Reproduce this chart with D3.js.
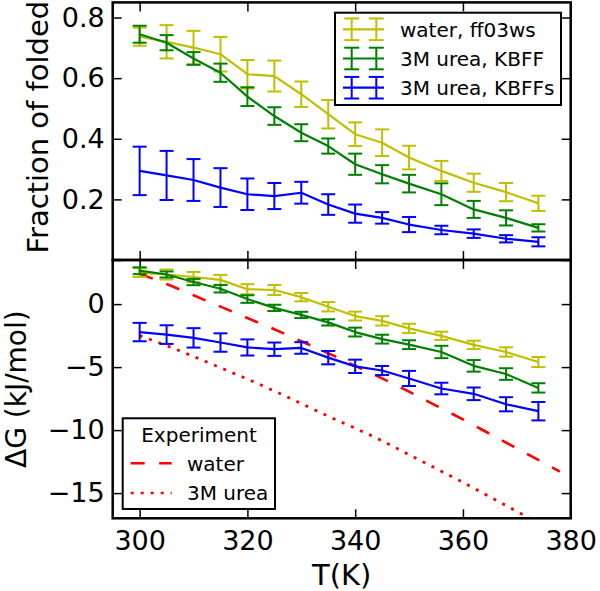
<!DOCTYPE html>
<html><head><meta charset="utf-8">
<script src="https://cdn.jsdelivr.net/npm/d3@7"></script>
<style>
body{margin:0;background:#fff}
text{font-family:"DejaVu Sans",sans-serif;fill:#000}
</style>
</head><body>
<svg id="chart" width="600" height="591"></svg>
<script>
// ---- data ----
const temps = [300,305,310,315,320,325,330,335,340,345,350,356,362,368,374];

const fracWater     = [0.737,0.720,0.701,0.679,0.613,0.607,0.547,0.481,0.415,0.387,0.338,0.294,0.255,0.224,0.187];
const fracWaterErr  = [0.030,0.055,0.055,0.057,0.047,0.051,0.042,0.047,0.039,0.044,0.039,0.033,0.030,0.030,0.025];
const fracKBFF      = [0.745,0.717,0.665,0.618,0.539,0.475,0.420,0.376,0.316,0.283,0.252,0.217,0.167,0.139,0.106];
const fracKBFFErr   = [0.028,0.025,0.021,0.030,0.031,0.029,0.028,0.025,0.035,0.030,0.029,0.036,0.028,0.025,0.012];
const fracKBFFs     = [0.294,0.279,0.264,0.239,0.217,0.211,0.222,0.183,0.153,0.139,0.117,0.099,0.087,0.070,0.060];
const fracKBFFsErr  = [0.080,0.081,0.069,0.064,0.052,0.043,0.036,0.034,0.030,0.019,0.025,0.014,0.014,0.012,0.015];

const dGWater       = [2.50,2.35,2.15,1.92,1.18,1.12,0.55,-0.21,-0.95,-1.33,-1.93,-2.52,-3.24,-3.80,-4.60];
const dGWaterErr    = [0.35,0.40,0.40,0.40,0.40,0.40,0.33,0.37,0.35,0.37,0.37,0.33,0.33,0.37,0.40];
const dGKBFF        = [2.65,2.35,1.75,1.22,0.40,-0.30,-0.86,-1.45,-2.22,-2.78,-3.22,-3.80,-4.90,-5.55,-6.65];
const dGKBFFErr     = [0.27,0.24,0.25,0.30,0.30,0.25,0.25,0.25,0.35,0.35,0.35,0.49,0.46,0.46,0.37];
const dGKBFFs       = [-2.22,-2.42,-2.68,-3.05,-3.44,-3.58,-3.48,-4.25,-4.94,-5.27,-5.90,-6.70,-7.12,-7.95,-8.50];
const dGKBFFsErr    = [0.73,0.74,0.77,0.73,0.64,0.53,0.46,0.53,0.53,0.36,0.60,0.46,0.50,0.56,0.73];

const expTemps      = [300,305,310,315,320,325,330,335,340,345,350,355,360,365,370,375,378];
const expWater      = [2.4,1.6,0.7,-0.2,-1.1,-2.0,-2.95,-3.9,-4.9,-5.9,-6.95,-8.05,-9.15,-10.3,-11.45,-12.6,-13.3];
const expUreaTemps  = [300,305,310,315,320,325,330,335,340,345,350,355,360,365,370,375];
const expUrea       = [-2.5,-3.3,-4.15,-5.05,-5.95,-6.9,-7.9,-8.9,-9.85,-10.85,-11.95,-13.05,-14.15,-15.3,-16.45,-17.6];

const xTicks     = [300,320,340,360,380];
const fracTicks  = [0,0.2,0.4,0.6,0.8];
const dGTicks    = [-15,-10,-5,0];

const seriesNames = ["water, ff03ws","3M urea, KBFF","3M urea, KBFFs"];
const seriesColors = ["#bfbf00","#008000","#0000ff"];
const expNames = ["water","3M urea"];
const expTitle = "Experiment";

// ---- layout ----
const L = 112.7, R = 570.7;
const topY0 = 2.4, topY1 = 260, botY0 = 260, botY1 = 518.3;
const svg = d3.select("#chart");

const x = d3.scaleLinear().domain([295,380]).range([L,R]);
const yTop = d3.scaleLinear().domain([0,0.85]).range([topY1,topY0]);
const yBot = d3.scaleLinear().domain([-17,3.5]).range([botY1,botY0]);

const fmtFrac = d => d === 0 ? "" : d3.format(".1f")(d);
const fmtInt = d => d3.format("d")(d);

function drawAxes(y, yTicks, yFmt, showX) {
  const y0 = y.range()[0], y1 = y.range()[1];
  const g = svg.append("g");
  const styleAx = a => {
    a.select(".domain").remove();
    a.selectAll(".tick line").attr("stroke","#000").attr("stroke-width",1.5);
    a.selectAll(".tick text").style("font-size","27px").style("font-family","DejaVu Sans");
  };
  g.append("g").attr("transform",`translate(0,${y0})`)
    .call(d3.axisBottom(x).tickValues(xTicks).tickSize(-9).tickPadding(13).tickFormat(showX ? fmtInt : ""))
    .call(styleAx);
  g.append("g").attr("transform",`translate(0,${y1})`)
    .call(d3.axisTop(x).tickValues(xTicks).tickSize(-9).tickFormat(""))
    .call(styleAx);
  g.append("g").attr("transform",`translate(${L},0)`)
    .call(d3.axisLeft(y).tickValues(yTicks).tickSize(-9).tickPadding(8).tickFormat(yFmt))
    .call(styleAx);
  g.append("g").attr("transform",`translate(${R},0)`)
    .call(d3.axisRight(y).tickValues(yTicks).tickSize(-9).tickFormat(""))
    .call(styleAx);
}

function drawSeries(y, vals, errs, color) {
  const g = svg.append("g");
  const line = d3.line().x((d,i)=>x(temps[i])).y(d=>y(d));
  g.append("path").datum(vals).attr("d",line).attr("fill","none")
    .attr("stroke",color).attr("stroke-width",2.2).attr("stroke-linejoin","round");
  const cap = 7;
  vals.forEach((v,i)=>{
    const cx = x(temps[i]), yt = y(v+errs[i]), yb = y(v-errs[i]);
    g.append("line").attr("x1",cx).attr("x2",cx).attr("y1",yt).attr("y2",yb).attr("stroke",color).attr("stroke-width",2);
    g.append("line").attr("x1",cx-cap).attr("x2",cx+cap).attr("y1",yt).attr("y2",yt).attr("stroke",color).attr("stroke-width",2);
    g.append("line").attr("x1",cx-cap).attr("x2",cx+cap).attr("y1",yb).attr("y2",yb).attr("stroke",color).attr("stroke-width",2);
  });
}

const dashWater = "14,14.5", dashUrea = "3,7";

// clip for bottom panel
svg.append("defs").append("clipPath").attr("id","clipBot")
  .append("rect").attr("x",L).attr("y",botY0).attr("width",R-L).attr("height",botY1-botY0);

// top panel
drawAxes(yTop, fracTicks, fmtFrac, false);
drawSeries(yTop, fracWater, fracWaterErr, seriesColors[0]);
drawSeries(yTop, fracKBFF, fracKBFFErr, seriesColors[1]);
drawSeries(yTop, fracKBFFs, fracKBFFsErr, seriesColors[2]);

// bottom panel
drawAxes(yBot, dGTicks, fmtInt, true);
const gClip = svg.append("g").attr("clip-path","url(#clipBot)");
gClip.append("path").datum(expWater)
  .attr("d", d3.line().curve(d3.curveMonotoneX).x((d,i)=>x(expTemps[i])).y(d=>yBot(d)))
  .attr("fill","none").attr("stroke","#ff0000").attr("stroke-width",2.6).attr("stroke-dasharray",dashWater);
gClip.append("path").datum(expUrea)
  .attr("d", d3.line().curve(d3.curveMonotoneX).x((d,i)=>x(expUreaTemps[i])).y(d=>yBot(d)))
  .attr("fill","none").attr("stroke","#ff0000").attr("stroke-width",2.8).attr("stroke-dasharray",dashUrea);
drawSeries(yBot, dGWater, dGWaterErr, seriesColors[0]);
drawSeries(yBot, dGKBFF, dGKBFFErr, seriesColors[1]);
drawSeries(yBot, dGKBFFs, dGKBFFsErr, seriesColors[2]);

// frames
svg.append("rect").attr("x",L).attr("y",topY0).attr("width",R-L).attr("height",topY1-topY0)
  .attr("fill","none").attr("stroke","#000").attr("stroke-width",2.5);
svg.append("rect").attr("x",L).attr("y",botY0).attr("width",R-L).attr("height",botY1-botY0)
  .attr("fill","none").attr("stroke","#000").attr("stroke-width",2.5);

// axis labels
svg.append("text").attr("x",(L+R)/2).attr("y",585).attr("text-anchor","middle")
  .style("font-size","29px").text("T(K)");
svg.append("text").attr("transform",`translate(48,${(topY0+topY1)/2 - 4}) rotate(-90)`).attr("text-anchor","middle")
  .style("font-size","29px").text("Fraction of folded");
svg.append("text").attr("transform",`translate(26,${(botY0+botY1)/2}) rotate(-90)`).attr("text-anchor","middle")
  .style("font-size","28px").text("ΔG (kJ/mol)");

// legend 1
const lg1 = svg.append("g");
lg1.append("rect").attr("x",335).attr("y",12.7).attr("width",226).attr("height",92.3)
  .attr("fill","#fff").attr("stroke","#000").attr("stroke-width",2);
seriesNames.forEach((n,i)=>{
  const cy = 29.3 + i*29.2, c = seriesColors[i];
  lg1.append("line").attr("x1",343).attr("x2",384).attr("y1",cy).attr("y2",cy).attr("stroke",c).attr("stroke-width",2.2);
  [351.7,376.3].forEach(bx=>{
    lg1.append("line").attr("x1",bx).attr("x2",bx).attr("y1",cy-10.8).attr("y2",cy+10.8).attr("stroke",c).attr("stroke-width",2);
    lg1.append("line").attr("x1",bx-7.5).attr("x2",bx+7.5).attr("y1",cy-10.8).attr("y2",cy-10.8).attr("stroke",c).attr("stroke-width",2);
    lg1.append("line").attr("x1",bx-7.5).attr("x2",bx+7.5).attr("y1",cy+10.8).attr("y2",cy+10.8).attr("stroke",c).attr("stroke-width",2);
  });
  lg1.append("text").attr("x",400).attr("y",cy+7.2).style("font-size","20px").text(n);
});

// legend 2
const lg2 = svg.append("g");
lg2.append("rect").attr("x",122.7).attr("y",418.3).attr("width",152.3).attr("height",90.7)
  .attr("fill","#fff").attr("stroke","#000").attr("stroke-width",2);
lg2.append("text").attr("x",199).attr("y",435+7.2).attr("text-anchor","middle").style("font-size","20px").text(expTitle);
const dashes = [dashWater, dashUrea];
expNames.forEach((n,i)=>{
  const cy = 463.3 + i*29.7;
  lg2.append("line").attr("x1",130.7).attr("x2",171.7).attr("y1",cy).attr("y2",cy)
    .attr("stroke","#ff0000").attr("stroke-width",2.6).attr("stroke-dasharray",dashes[i]);
  lg2.append("text").attr("x",187).attr("y",cy+7.2).style("font-size","20px").text(n);
});
</script>
</body></html>
